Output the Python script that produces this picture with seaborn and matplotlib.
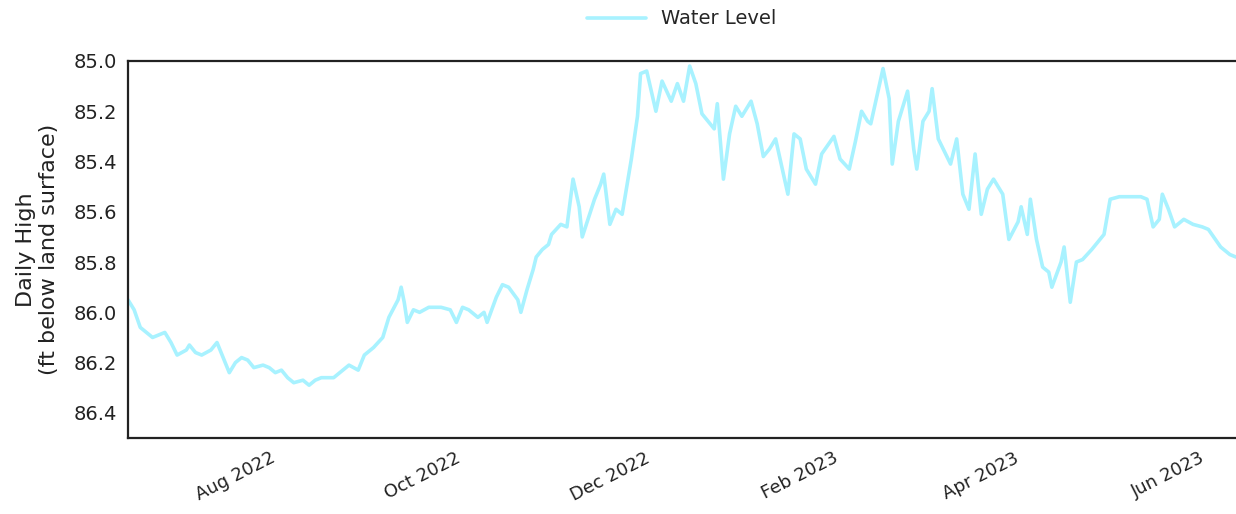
import matplotlib
matplotlib.use("Agg")
import matplotlib.pyplot as plt
import matplotlib.dates as mdates
import seaborn as sns
import pandas as pd
import numpy as np

# ---- data (days after start date, daily high in ft below land surface)
start_date = "2022-06-27"
day_offsets = [0, 2, 4, 6, 8, 10, 12, 14, 16, 19, 20, 22, 24, 27, 29, 31, 33, 35, 37, 39,
               41, 44, 46, 48, 50, 52, 54, 57, 59, 61, 63, 65, 67, 70, 72, 75, 77, 80, 83, 85,
               88, 89, 90, 91, 93, 95, 98, 102, 105, 107, 109, 111, 114, 116, 117, 120, 122, 124, 127, 128,
               130, 132, 133, 135, 137, 138, 141, 143, 145, 147, 148, 152, 154, 155, 157, 159, 161, 164, 166, 167,
               169, 172, 174, 177, 179, 181, 183, 185, 187, 191, 192, 194, 196, 198, 200, 203, 205, 207, 209, 211,
               215, 217, 219, 221, 224, 226, 230, 232, 235, 237, 239, 241, 242, 244, 246, 248, 249, 251, 254, 256,
               257, 259, 261, 262, 264, 266, 268, 270, 272, 274, 276, 278, 280, 282, 285, 287, 290, 291, 293, 294,
               296, 298, 300, 301, 304, 305, 307, 309, 311, 314, 318, 320, 323, 326, 330, 332, 334, 336, 337, 339,
               341, 344, 347, 350, 352, 356, 359, 361]
water_level = [85.95, 85.99, 86.06, 86.08, 86.10, 86.09, 86.08, 86.12, 86.17, 86.15, 86.13, 86.16, 86.17, 86.15, 86.12, 86.18, 86.24, 86.20, 86.18, 86.19,
               86.22, 86.21, 86.22, 86.24, 86.23, 86.26, 86.28, 86.27, 86.29, 86.27, 86.26, 86.26, 86.26, 86.23, 86.21, 86.23, 86.17, 86.14, 86.10, 86.02,
               85.95, 85.90, 85.96, 86.04, 85.99, 86.00, 85.98, 85.98, 85.99, 86.04, 85.98, 85.99, 86.02, 86.00, 86.04, 85.94, 85.89, 85.90, 85.95, 86.00,
               85.91, 85.83, 85.78, 85.75, 85.73, 85.69, 85.65, 85.66, 85.47, 85.58, 85.70, 85.55, 85.49, 85.45, 85.65, 85.59, 85.61, 85.39, 85.22, 85.05,
               85.04, 85.20, 85.08, 85.16, 85.09, 85.16, 85.02, 85.09, 85.21, 85.27, 85.17, 85.47, 85.29, 85.18, 85.22, 85.16, 85.25, 85.38, 85.35, 85.31,
               85.53, 85.29, 85.31, 85.43, 85.49, 85.37, 85.30, 85.39, 85.43, 85.32, 85.20, 85.24, 85.25, 85.14, 85.03, 85.15, 85.41, 85.24, 85.12, 85.35,
               85.43, 85.24, 85.20, 85.11, 85.31, 85.36, 85.41, 85.31, 85.53, 85.59, 85.37, 85.61, 85.51, 85.47, 85.53, 85.71, 85.64, 85.58, 85.69, 85.55,
               85.71, 85.82, 85.84, 85.90, 85.80, 85.74, 85.96, 85.80, 85.79, 85.75, 85.69, 85.55, 85.54, 85.54, 85.54, 85.55, 85.66, 85.63, 85.53, 85.59,
               85.66, 85.63, 85.65, 85.66, 85.67, 85.74, 85.77, 85.78]
y_ticks = [85.0, 85.2, 85.4, 85.6, 85.8, 86.0, 86.2, 86.4]
series_label = "Water Level"
y_label = "Daily High\n(ft below land surface)"

df = pd.DataFrame({
    "date": pd.Timestamp(start_date) + pd.to_timedelta(day_offsets, unit="D"),
    "level": water_level,
})

sns.set_theme(style="white")
plt.rcParams["font.family"] = ["DejaVu Sans"]

fig = plt.figure(figsize=(12.36, 5.14), dpi=100)
ax = fig.add_axes([128 / 1236, 1 - 438 / 514, 1 - 128 / 1236, (438 - 61) / 514])

line_color = "#a8f2ff"
sns.lineplot(data=df, x="date", y="level", ax=ax, color=line_color, linewidth=2.6,
             label=series_label)

ax.set_xlim(df["date"].iloc[0], df["date"].iloc[-1])
ax.set_ylim(86.5, 85.0)
ax.set_yticks(y_ticks)
ax.set_yticklabels([f"{v:.1f}" for v in y_ticks], fontsize=14)
ax.xaxis.set_major_locator(mdates.MonthLocator(bymonth=[2, 4, 6, 8, 10, 12]))
ax.xaxis.set_major_formatter(mdates.DateFormatter("%b %Y"))
for lbl in ax.get_xticklabels():
    lbl.set_rotation(27)
    lbl.set_fontsize(13)
    lbl.set_ha("center")
ax.tick_params(axis="both", length=0, pad=8, colors="#222222")
ax.set_xlabel("")
ax.set_ylabel(y_label, fontsize=16, labelpad=10, color="#222222")

for side in ["left", "top", "bottom"]:
    ax.spines[side].set_visible(True)
    ax.spines[side].set_color("#222222")
    ax.spines[side].set_linewidth(1.6)
ax.spines["right"].set_visible(False)

ax.legend(loc="lower center", bbox_to_anchor=(0.5, 1.04), frameon=False, fontsize=14,
          handlelength=3.0)

fig.savefig("out.png", dpi=100)
